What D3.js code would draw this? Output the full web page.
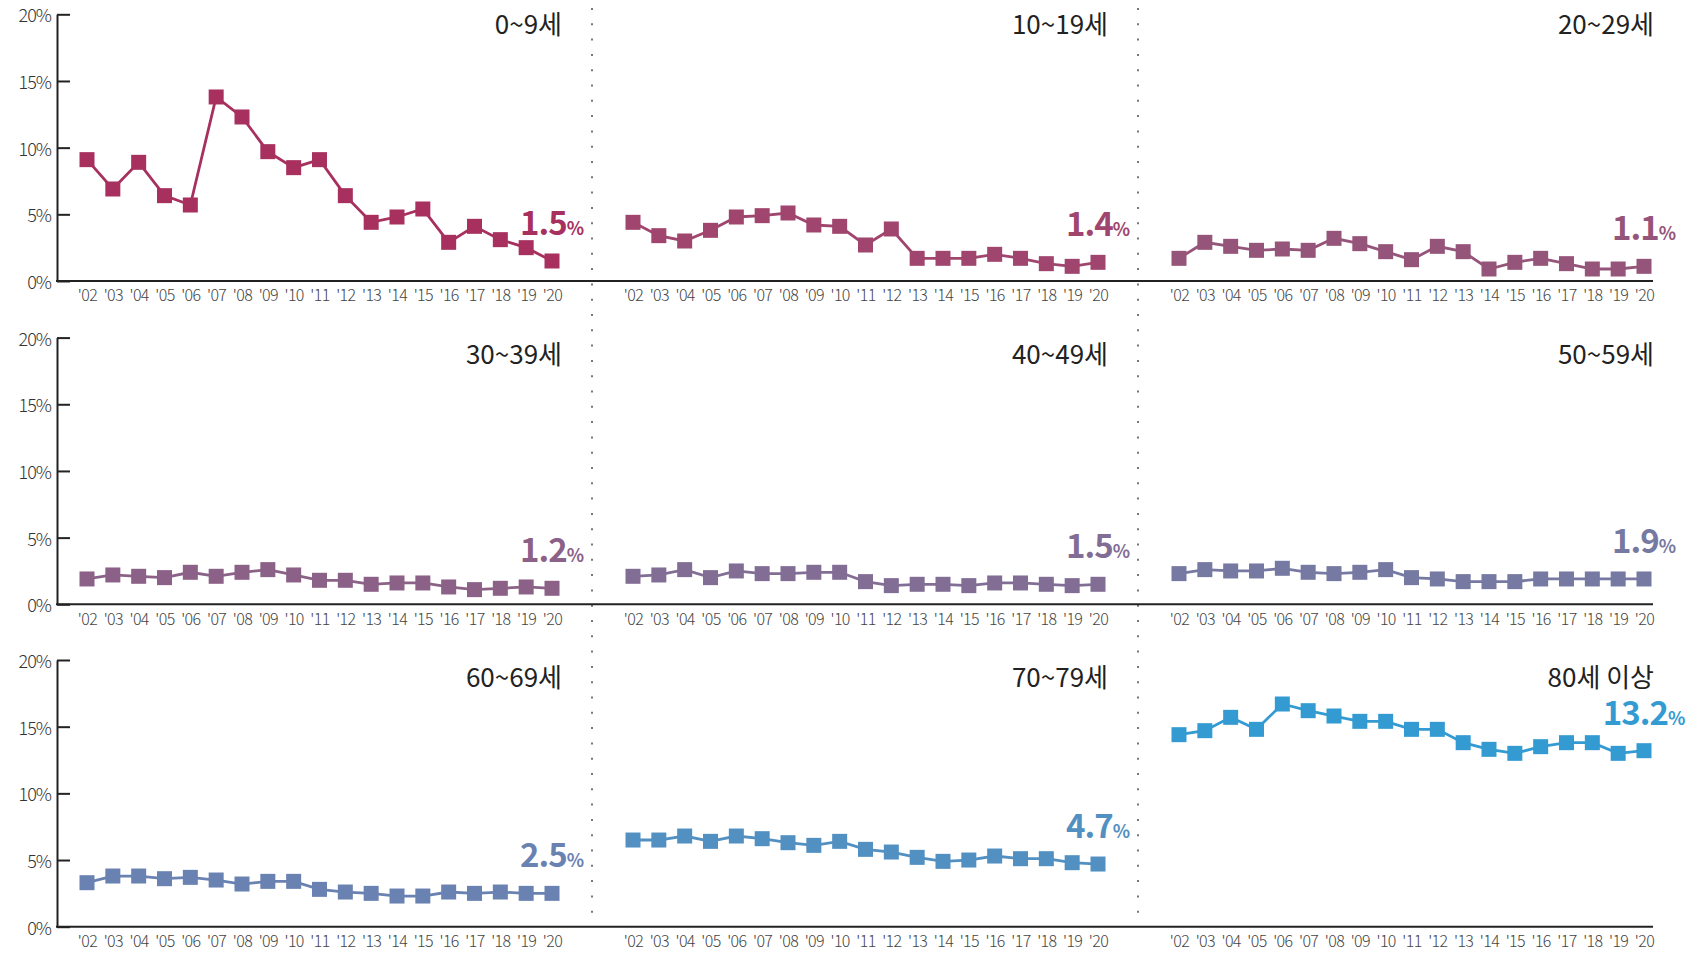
<!DOCTYPE html>
<html><head><meta charset="utf-8">
<script src="https://cdn.jsdelivr.net/npm/d3@7"></script>
<style>
html,body{margin:0;padding:0;background:#fff;}
svg{display:block;}
text{font-family:"Noto Sans CJK KR","Noto Sans",sans-serif;}
</style></head><body>
<svg id="chart" width="1686" height="956"></svg>
<script>
// ---- data ----
const years = ["'02","'03","'04","'05","'06","'07","'08","'09","'10","'11","'12","'13","'14","'15","'16","'17","'18","'19","'20"];
const groups = ["0~9세","10~19세","20~29세","30~39세","40~49세","50~59세","60~69세","70~79세","80세 이상"];
const age0_9   = [9.1,6.9,8.9,6.4,5.7,13.8,12.3,9.7,8.5,9.1,6.4,4.4,4.8,5.4,2.9,4.1,3.1,2.5,1.5];
const age10_19 = [4.4,3.4,3.0,3.8,4.8,4.9,5.1,4.2,4.1,2.7,3.9,1.7,1.7,1.7,2.0,1.7,1.3,1.1,1.4];
const age20_29 = [1.7,2.9,2.6,2.3,2.4,2.3,3.2,2.8,2.2,1.6,2.6,2.2,0.9,1.4,1.7,1.3,0.9,0.9,1.1];
const age30_39 = [1.9,2.2,2.1,2.0,2.4,2.1,2.4,2.6,2.2,1.8,1.8,1.5,1.6,1.6,1.3,1.1,1.2,1.3,1.2];
const age40_49 = [2.1,2.2,2.6,2.0,2.5,2.3,2.3,2.4,2.4,1.7,1.4,1.5,1.5,1.4,1.6,1.6,1.5,1.4,1.5];
const age50_59 = [2.3,2.6,2.5,2.5,2.7,2.4,2.3,2.4,2.6,2.0,1.9,1.7,1.7,1.7,1.9,1.9,1.9,1.9,1.9];
const age60_69 = [3.3,3.8,3.8,3.6,3.7,3.5,3.2,3.4,3.4,2.8,2.6,2.5,2.3,2.3,2.6,2.5,2.6,2.5,2.5];
const age70_79 = [6.5,6.5,6.8,6.4,6.8,6.6,6.3,6.1,6.4,5.8,5.6,5.2,4.9,5.0,5.3,5.1,5.1,4.8,4.7];
const age80up  = [14.4,14.7,15.7,14.8,16.7,16.2,15.8,15.4,15.4,14.8,14.8,13.8,13.3,13.0,13.5,13.8,13.8,13.0,13.2];
const seriesValues = [age0_9,age10_19,age20_29,age30_39,age40_49,age50_59,age60_69,age70_79,age80up];
const yTicks = [0,5,10,15,20];

// ---- style ----
const colors = ["#a7305f","#a0456e","#955479","#8c6187","#826e95","#7679a1","#6a82b2","#5290c2","#339bd2"];

const svg = d3.select("#chart");
const colStart = 57, colStep = 546;
const rowBase = [281, 604.3, 926.7];
const plotH = 266.7;
const lineEndX = 1653;

// separators
[1,2].forEach(c => {
  const sx = colStart + c*colStep - 11;
  svg.append("line").attr("x1",sx).attr("x2",sx).attr("y1",8).attr("y2",920)
    .attr("stroke","#777").attr("stroke-width",2).attr("stroke-dasharray","2 13.3");
});

groups.forEach((name, i) => {
  const col = i % 3, row = Math.floor(i / 3);
  const x0 = colStart + col*colStep;
  const base = rowBase[row];
  const vals = seriesValues[i];
  const color = colors[i];
  const x = d3.scalePoint().domain(years).range([x0 + 30, x0 + 495]);
  const y = d3.scaleLinear().domain([0, 20]).range([base, base - plotH]);
  const g = svg.append("g");

  if (col === 0) {
    const ya = g.append("g").attr("transform", `translate(${x0},0)`)
      .call(d3.axisLeft(y).tickValues(yTicks).tickSizeInner(-13).tickSizeOuter(0).tickPadding(6).tickFormat(d => d + "%"));
    ya.select(".domain").attr("stroke","#222").attr("stroke-width",2);
    ya.selectAll(".tick line").attr("stroke","#222").attr("stroke-width",2);
    ya.selectAll(".tick text").attr("font-size",18).attr("fill","#333").attr("font-weight",300)
      .attr("font-family",'"Noto Sans CJK KR",sans-serif').attr("letter-spacing","-1px").attr("dy","0.42em");
    g.append("line").attr("x1", x0 - 1).attr("x2", lineEndX).attr("y1", base).attr("y2", base)
      .attr("stroke","#222").attr("stroke-width",2);
  }

  const xa = g.append("g").attr("transform", `translate(0,${base})`)
    .call(d3.axisBottom(x).tickSize(0).tickPadding(9));
  xa.select(".domain").remove();
  xa.selectAll(".tick text").attr("font-size",16).attr("fill","#444").attr("font-weight",300)
    .attr("font-family",'"Noto Sans CJK KR",sans-serif').attr("letter-spacing","-0.6px");

  // title
  g.append("text").attr("x", x0 + 505).attr("y", base - plotH + (row === 0 ? 8 : 15))
    .attr("text-anchor","end").attr("dominant-baseline","central")
    .attr("font-size",26).attr("fill","#222").text(name);

  // line
  const line = d3.line().x((d, j) => x(years[j])).y(d => y(d));
  g.append("path").datum(vals).attr("d", line).attr("fill","none")
    .attr("stroke", color).attr("stroke-width", 2.8);

  g.selectAll("rect.m").data(vals).enter().append("rect").attr("class","m")
    .attr("x", (d, j) => x(years[j]) - 7.5).attr("y", d => y(d) - 7.5)
    .attr("width", 15).attr("height", 15).attr("fill", color);

  // end value label
  const last = vals[vals.length - 1];
  const lbl = g.append("text").attr("x", x(years[years.length - 1])).attr("y", y(last) - 26)
    .attr("text-anchor","middle").attr("fill", color).attr("font-weight",700);
  lbl.append("tspan").attr("font-size",33).attr("letter-spacing","-1px").text(last.toFixed(1));
  lbl.append("tspan").attr("font-size",18).text("%");
});
</script>
</body></html>
